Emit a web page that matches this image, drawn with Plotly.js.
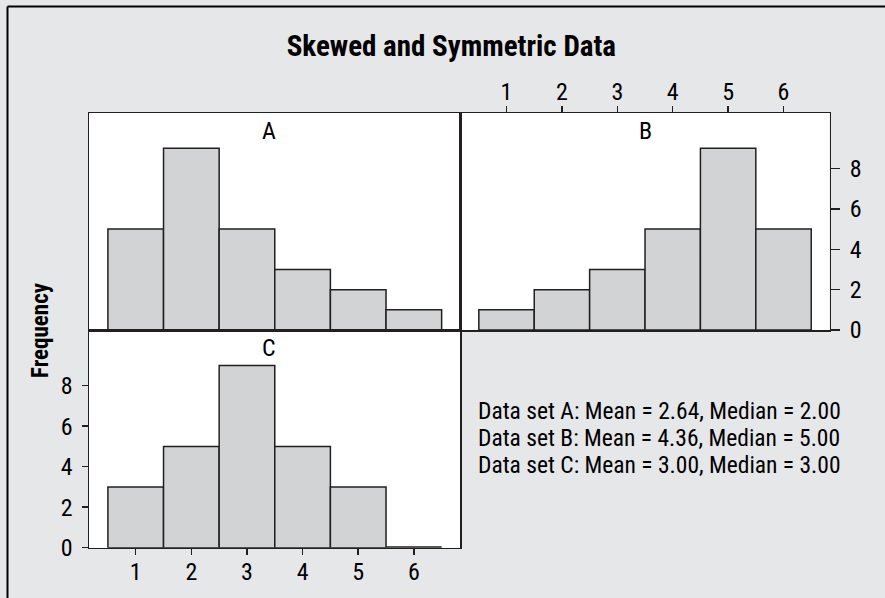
<!DOCTYPE html>
<html>
<head>
<meta charset="utf-8">
<script src="https://cdn.plot.ly/plotly-3.0.1.min.js"></script>
<style>
html,body{margin:0;padding:0;background:#e6e7e8;}
#chart{width:885px;height:598px;}
</style>
</head>
<body>
<div id="chart"></div>
<script>
// ---- data ----
const bins = [1, 2, 3, 4, 5, 6];
const countsA = [5, 9, 5, 3, 2, 1];
const countsB = [1, 2, 3, 5, 9, 5];
const countsC = [3, 5, 9, 5, 3, 0];
const panelLabels = ["A", "B", "C"];
const yTicks = [0, 2, 4, 6, 8];
const statsLines = [
  "Data set A: Mean = 2.64, Median = 2.00",
  "Data set B: Mean = 4.36, Median = 5.00",
  "Data set C: Mean = 3.00, Median = 3.00"
];
const chartTitle = "Skewed and Symmetric Data";
const yTitle = "Frequency";

// ---- style ----
const FONT = "Liberation Sans Narrow, Roboto Condensed, DejaVu Sans Condensed, sans-serif";
const INK = "#231f20";
const BARFILL = "#d1d3d4";
const BG = "#e6e7e8";
const W = 885, H = 598;
const px = v => v / W;
const py = v => (H - v) / H;

function barTrace(counts, xa, ya, lw) {
  return {
    type: "bar", x: bins, y: counts, width: 1,
    xaxis: xa, yaxis: ya,
    marker: {color: BARFILL, line: {color: INK, width: lw}},
    hoverinfo: "x+y", showlegend: false
  };
}

const data = [
  barTrace(countsA, "x", "y", 1.5),
  barTrace(countsB, "x2", "y2", 1.5),
  barTrace(countsC, "x3", "y3", [1.5, 1.5, 1.5, 1.5, 1.5, 3])
];

const xr = [0.16, 6.83];
const yr = [0, 10.75];
const base = {
  showline: true, mirror: true, linecolor: INK, linewidth: 1.5,
  showgrid: false, zeroline: false, fixedrange: true,
  tickfont: {family: FONT, size: 24, color: "#000"},
  ticklen: 7, tickwidth: 1.5, tickcolor: INK
};
const dA = {x: [px(89), px(460)], y: [py(330), py(113)]};
const dB = {x: [px(460), px(829.5)], y: [py(330), py(113)]};
const dC = {x: [px(89), px(460)], y: [py(547.7), py(330)]};

const statsY = [411, 438, 465];
const statsAnns = statsLines.map((t, i) => ({
  text: t, xref: "paper", yref: "paper", x: px(476), y: py(statsY[i]),
  xanchor: "left", yanchor: "middle", align: "left", showarrow: false,
  font: {family: FONT, size: 23.5, color: "#000"}
}));

const layout = {
  width: W, height: H,
  margin: {l: 0, r: 0, t: 0, b: 0},
  paper_bgcolor: BG, plot_bgcolor: "#ffffff",
  bargap: 0,
  title: {text: chartTitle, x: 0.51, xanchor: "center", y: py(46), yanchor: "middle",
          font: {family: FONT, size: 29, color: "#000", weight: "bold"}},
  xaxis: Object.assign({}, base, {domain: dA.x, range: xr, anchor: "y", showticklabels: false, ticks: ""}),
  yaxis: Object.assign({}, base, {domain: dA.y, range: yr, anchor: "x", showticklabels: false, ticks: ""}),
  xaxis2: Object.assign({}, base, {domain: dB.x, range: xr, anchor: "y2", side: "top",
          tickvals: bins, ticks: "outside", ticklen: 6, ticklabelstandoff: -4}),
  yaxis2: Object.assign({}, base, {domain: dB.y, range: yr, anchor: "x2", side: "right",
          tickvals: yTicks, ticks: "outside", ticklen: 9, ticklabelstandoff: 5}),
  xaxis3: Object.assign({}, base, {domain: dC.x, range: xr, anchor: "y3",
          tickvals: bins, ticks: "outside", ticklen: 6, ticklabelstandoff: -4}),
  yaxis3: Object.assign({}, base, {domain: dC.y, range: yr, anchor: "x3",
          tickvals: yTicks, ticks: "outside", ticklen: 6, ticklabelstandoff: 4}),
  annotations: [
    {text: panelLabels[0], xref: "x", yref: "paper", x: 3.4, y: py(131), yanchor: "middle", showarrow: false,
     font: {family: FONT, size: 24, color: "#000"}},
    {text: panelLabels[1], xref: "x2", yref: "paper", x: 3.5, y: py(131), yanchor: "middle", showarrow: false,
     font: {family: FONT, size: 24, color: "#000"}},
    {text: panelLabels[2], xref: "x3", yref: "paper", x: 3.4, y: py(348), yanchor: "middle", showarrow: false,
     font: {family: FONT, size: 24, color: "#000"}},
    {text: yTitle, xref: "paper", yref: "paper", x: px(40), y: py(330), xanchor: "center", yanchor: "middle",
     textangle: -90, showarrow: false, font: {family: FONT, size: 23, color: "#000", weight: "bold"}}
  ].concat(statsAnns),
  shapes: [
    {type: "line", xref: "paper", yref: "paper", x0: px(7.5), x1: 1, y0: py(6.5), y1: py(6.5),
     line: {color: "#000", width: 2}},
    {type: "line", xref: "paper", yref: "paper", x0: px(7.5), x1: px(7.5), y0: py(6.5), y1: 0,
     line: {color: "#000", width: 2}}
  ]
};

Plotly.newPlot("chart", data, layout, {displayModeBar: false, staticPlot: true});
</script>
</body>
</html>
